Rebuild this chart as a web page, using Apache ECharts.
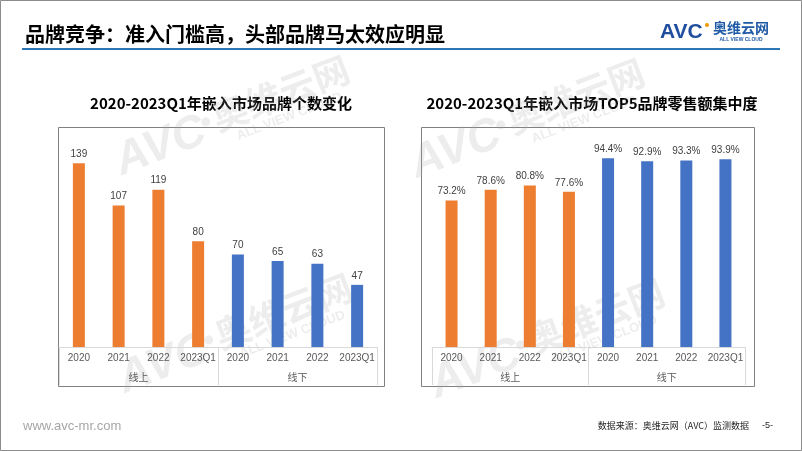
<!DOCTYPE html>
<html>
<head>
<meta charset="utf-8">
<script src="https://cdn.jsdelivr.net/npm/echarts@6/dist/echarts.min.js"></script>
<style>
html,body{margin:0;padding:0;background:#fff;}
#chart{width:802px;height:451px;}
</style>
</head>
<body>
<div id="chart"></div>
<script>
// ---- data ----
const categories = ['2020', '2021', '2022', '2023Q1', '2020', '2021', '2022', '2023Q1'];
const groups = ['线上', '线下'];
const brandCountOnline = [139, 107, 119, 80];
const brandCountOffline = [70, 65, 63, 47];
const top5ShareOnline = [73.2, 78.6, 80.8, 77.6];
const top5ShareOffline = [94.4, 92.9, 93.3, 93.9];

const pageTitle = '品牌竞争：准入门槛高，头部品牌马太效应明显';
const chartTitleLeft = '2020-2023Q1年嵌入市场品牌个数变化';
const chartTitleRight = '2020-2023Q1年嵌入市场TOP5品牌零售额集中度';
const sourceText = '数据来源：奥维云网（AVC）监测数据';

// ---- helpers ----
const pad = (arr, before) => before ? arr.concat(arr.map(() => '-')) : arr.map(() => '-').concat(arr);
const ORANGE = '#ED7D31', BLUE = '#4472C4';
const NUMFONT = 'Liberation Sans, Noto Sans CJK SC, sans-serif';
const CJK = 'Noto Sans CJK SC, sans-serif';

function barSeries(idx, data, color, fmt) {
  return {
    type: 'bar', xAxisIndex: idx * 2, yAxisIndex: idx, data: data,
    barWidth: 12, barGap: '-100%',
    itemStyle: { color: color },
    label: {
      show: true, position: 'top', distance: 4, color: '#404040',
      fontSize: 10, fontFamily: NUMFONT, formatter: fmt
    },
    silent: true
  };
}

function xAxes(gridIndex) {
  return [{
    type: 'category', gridIndex: gridIndex, data: categories,
    axisLine: { lineStyle: { color: '#d9d9d9', width: 1 } },
    axisTick: { show: false },
    axisLabel: { color: '#595959', fontSize: 10, margin: 6, fontFamily: NUMFONT, interval: 0 }
  }, {
    type: 'category', gridIndex: gridIndex, data: groups, position: 'bottom',
    axisLine: { show: false },
    axisTick: { show: true, length: 38, lineStyle: { color: '#d9d9d9', width: 1 } },
    axisLabel: { color: '#595959', fontSize: 10, margin: 25, fontFamily: CJK }
  }];
}

const WM = 'rgba(165,165,165,0.2)';
function watermark(x, y) {
  return {
    type: 'group', x: x, y: y, rotation: 21 * Math.PI / 180, z: 100, silent: true,
    children: [
      { type: 'text', style: { text: 'AVC', x: -4, y: 32, align: 'right', verticalAlign: 'bottom', font: 'italic bold 46px Liberation Sans', fill: WM } },
      { type: 'circle', shape: { cx: 0, cy: 2, r: 4.5 }, style: { fill: WM } },
      { type: 'text', style: { text: '奥维云网', x: 8, y: 2, verticalAlign: 'middle', font: 'bold 36px Noto Sans CJK SC', fill: WM } },
      { type: 'text', style: { text: 'ALL VIEW CLOUD', x: 80, y: 27, align: 'center', verticalAlign: 'middle', font: 'bold 13px Liberation Sans', fill: WM } }
    ]
  };
}

const chart = echarts.init(document.getElementById('chart'), null, { renderer: 'canvas' });
chart.setOption({
  animation: false,
  backgroundColor: '#ffffff',
  grid: [
    { left: 59, top: 135.5, width: 318, height: 211.5 },
    { left: 432, top: 147, width: 313, height: 200 }
  ],
  xAxis: xAxes(0).concat(xAxes(1)),
  yAxis: [
    { type: 'value', gridIndex: 0, min: 0, max: 160, show: false },
    { type: 'value', gridIndex: 1, min: 0, max: 100, show: false }
  ],
  series: [
    barSeries(0, pad(brandCountOnline, true), ORANGE, p => p.value),
    barSeries(0, pad(brandCountOffline, false), BLUE, p => p.value),
    barSeries(1, pad(top5ShareOnline, true), ORANGE, p => p.value.toFixed(1) + '%'),
    barSeries(1, pad(top5ShareOffline, false), BLUE, p => p.value.toFixed(1) + '%')
  ],
  graphic: [
    // page border
    { type: 'rect', shape: { x: 0.5, y: 0.5, width: 801, height: 450 }, style: { fill: null, stroke: '#8c8c8c', lineWidth: 1 }, silent: true },
    // header
    { type: 'text', style: { text: pageTitle, x: 25, y: 34, verticalAlign: 'middle', font: 'bold 20px Noto Sans CJK SC', fill: '#000' } },
    { type: 'line', shape: { x1: 22, y1: 49, x2: 780, y2: 49 }, style: { stroke: '#2e75b6', lineWidth: 2 } },
    // logo
    { type: 'text', style: { text: 'AVC', x: 660, y: 32, verticalAlign: 'middle', font: 'bold 21px Liberation Sans', fill: '#1f4e9f' } },
    { type: 'circle', shape: { cx: 707, cy: 25, r: 2 }, style: { fill: '#f39800' } },
    { type: 'text', style: { text: '奥维云网', x: 713, y: 28, verticalAlign: 'middle', font: 'bold 14px Noto Sans CJK SC', fill: '#1f5aa6' } },
    { type: 'text', style: { text: 'ALL VIEW CLOUD', x: 741, y: 40, align: 'center', verticalAlign: 'middle', font: 'bold 5px Liberation Sans', fill: '#1f5aa6' } },
    // chart frames
    { type: 'rect', shape: { x: 58.5, y: 127.5, width: 326, height: 259 }, style: { fill: null, stroke: '#808080', lineWidth: 1 }, silent: true },
    { type: 'rect', shape: { x: 421.5, y: 127.5, width: 333, height: 259 }, style: { fill: null, stroke: '#808080', lineWidth: 1 }, silent: true },
    // chart titles
    { type: 'text', style: { text: chartTitleLeft, x: 221, y: 103, align: 'center', verticalAlign: 'middle', font: 'bold 15px Noto Sans CJK SC', fill: '#000' } },
    { type: 'text', style: { text: chartTitleRight, x: 592, y: 103, align: 'center', verticalAlign: 'middle', font: 'bold 15px Noto Sans CJK SC', fill: '#000' } },
    // footer
    { type: 'text', style: { text: 'www.avc-mr.com', x: 23, y: 426, verticalAlign: 'middle', font: '13px Liberation Sans', fill: '#a6a6a6' } },
    { type: 'text', style: { text: sourceText, x: 749, y: 426, align: 'right', verticalAlign: 'middle', font: '9px Noto Sans CJK SC', fill: '#262626' } },
    { type: 'text', style: { text: '-5-', x: 762, y: 426, verticalAlign: 'middle', font: '9px Liberation Sans', fill: '#262626' } },
    // watermarks
    watermark(205, 120), watermark(208, 338), watermark(500, 123), watermark(520, 343)
  ]
});
</script>
</body>
</html>
